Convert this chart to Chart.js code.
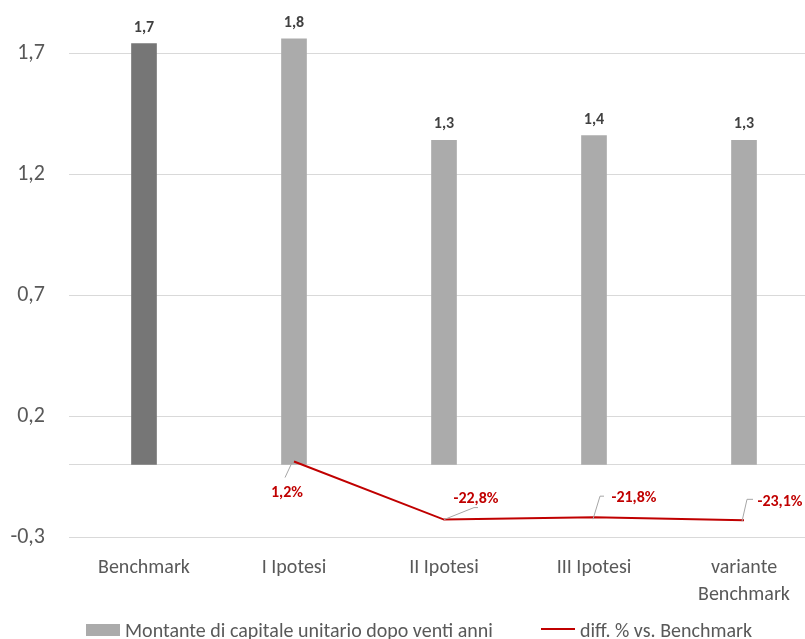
<!DOCTYPE html>
<html>
<head>
<meta charset="utf-8">
<script src="https://cdn.jsdelivr.net/npm/chart.js@4.4.1/dist/chart.umd.min.js"></script>
<style>
  html, body { margin: 0; padding: 0; background: #ffffff; overflow: hidden; width: 805px; height: 639px; }
  #wrap { width: 821px; height: 639px; }
</style>
</head>
<body>
<div id="wrap"><canvas id="c" width="821" height="639"></canvas></div>
<script>
// Categories and series
const categories = ['Benchmark', 'I Ipotesi', 'II Ipotesi', 'III Ipotesi', ['variante', 'Benchmark']];
const montante = [1.74, 1.76, 1.34, 1.36, 1.34];          // capital after twenty years
const diffPct = [null, 0.012, -0.228, -0.218, -0.231];     // % difference vs. Benchmark
const yTicks = [-0.3, 0.2, 0.7, 1.2, 1.7];
const seriesNames = ['Montante di capitale unitario dopo venti anni', 'diff. % vs. Benchmark'];

const FONT = 'Carlito, Lato, "Open Sans", sans-serif';
const TEXT_GREY = '#595959';
const RED = '#c00000';
const BAR_DARK = '#767676';
const BAR_LIGHT = '#ababab';

const fmt1 = v => v.toFixed(1).replace('.', ',');
const fmtPct = v => (v * 100).toFixed(1).replace('.', ',') + '%';

// label placement for the line series: label centre and leader path, relative to the point
const lineLabelLayout = [
  null,
  { dx: -7, dy: 31, leader: [[-2, 1], [-9, 16]] },
  { dx: 32, dy: -21, leader: [[0, 0], [30, -12], [34, -12]] },
  { dx: 40, dy: -19, leader: [[-1, 2], [6, -21], [10, -21]] },
  { dx: 36, dy: -18, leader: [[-2, 1], [3, -21], [9, -21]] }
];

const decorations = {
  id: 'decorations',
  beforeDatasetsDraw(chart) {
    const { ctx, chartArea, scales } = chart;
    const y0 = Math.round(scales.y.getPixelForValue(0)) + 0.5;
    ctx.save();
    ctx.strokeStyle = '#d9d9d9';
    ctx.lineWidth = 1;
    ctx.beginPath();
    ctx.moveTo(chartArea.left, y0);
    ctx.lineTo(chartArea.right, y0);
    ctx.stroke();
    ctx.restore();
  },
  afterDatasetsDraw(chart) {
    const { ctx } = chart;
    ctx.save();
    // values above the bars
    const barMeta = chart.getDatasetMeta(0);
    ctx.font = 'bold 16px ' + FONT;
    ctx.fillStyle = '#404040';
    ctx.textAlign = 'center';
    ctx.textBaseline = 'middle';
    barMeta.data.forEach((el, i) => {
      ctx.fillText(fmt1(montante[i]), el.x, el.y - 16);
    });
    // percentage labels with leader lines
    const lineMeta = chart.getDatasetMeta(1);
    lineMeta.data.forEach((pt, i) => {
      const v = diffPct[i];
      const lay = lineLabelLayout[i];
      if (v === null || !lay) return;
      ctx.strokeStyle = '#a6a6a6';
      ctx.lineWidth = 1;
      ctx.beginPath();
      lay.leader.forEach(([lx, ly], k) => {
        if (k === 0) ctx.moveTo(pt.x + lx, pt.y + ly);
        else ctx.lineTo(pt.x + lx, pt.y + ly);
      });
      ctx.stroke();
      ctx.fillStyle = RED;
      ctx.font = 'bold 16px ' + FONT;
      ctx.fillText(fmtPct(v), pt.x + lay.dx, pt.y + lay.dy);
    });
    ctx.restore();
  },
  afterDraw(chart) {
    const { ctx } = chart;
    ctx.save();
    ctx.font = '20px ' + FONT;
    ctx.textAlign = 'left';
    ctx.textBaseline = 'alphabetic';
    // bar series key
    ctx.fillStyle = BAR_LIGHT;
    ctx.fillRect(86, 624, 34, 12);
    ctx.fillStyle = TEXT_GREY;
    ctx.fillText(seriesNames[0], 125, 637);
    // line series key
    ctx.strokeStyle = RED;
    ctx.lineWidth = 2;
    ctx.beginPath();
    ctx.moveTo(541, 629);
    ctx.lineTo(575, 629);
    ctx.stroke();
    ctx.fillText(seriesNames[1], 580, 637);
    ctx.restore();
  }
};

new Chart(document.getElementById('c'), {
  type: 'bar',
  data: {
    labels: categories,
    datasets: [
      {
        label: seriesNames[0],
        data: montante,
        backgroundColor: montante.map((_, i) => i === 0 ? BAR_DARK : BAR_LIGHT),
        barThickness: 25,
        order: 2
      },
      {
        type: 'line',
        label: seriesNames[1],
        data: diffPct,
        borderColor: RED,
        backgroundColor: RED,
        borderWidth: 2,
        pointRadius: 0,
        tension: 0,
        spanGaps: false,
        order: 1
      }
    ]
  },
  options: {
    responsive: false,
    animation: false,
    devicePixelRatio: 1,
    layout: { padding: { top: 5, right: 2, left: 0, bottom: 0 } },
    plugins: {
      legend: { display: false },
      tooltip: { enabled: false }
    },
    scales: {
      x: {
        grid: { display: false },
        border: { display: false },
        ticks: {
          color: TEXT_GREY,
          font: { family: FONT, size: 20, lineHeight: 1.35 },
          padding: 9,
          maxRotation: 0,
          autoSkip: false
        },
        afterFit(s) { s.height = 102; s.paddingLeft = 0; s.paddingRight = 0; }
      },
      y: {
        min: -0.3,
        max: 1.9,
        afterBuildTicks(s) { s.ticks = yTicks.map(v => ({ value: v })); },
        afterFit(s) { s.width = 69; s.paddingTop = 0; s.paddingBottom = 0; },
        grid: { color: '#d9d9d9', lineWidth: 1, drawTicks: false },
        border: { display: false },
        ticks: {
          color: TEXT_GREY,
          font: { family: FONT, size: 22 },
          padding: 24,
          callback: v => fmt1(v)
        }
      }
    }
  },
  plugins: [decorations]
});
</script>
</body>
</html>
